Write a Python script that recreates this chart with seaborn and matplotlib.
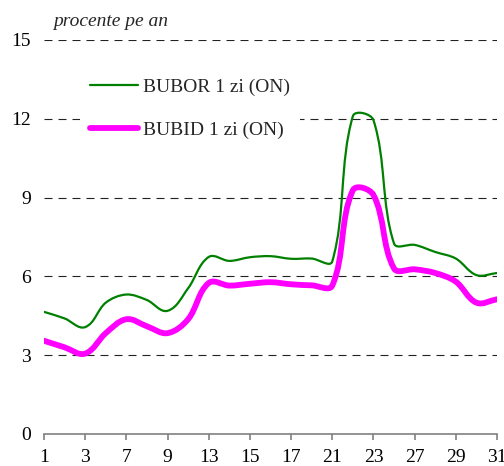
import numpy as np
import pandas as pd
import matplotlib
matplotlib.use("Agg")
import matplotlib.pyplot as plt
import seaborn as sns
from matplotlib.path import Path
from matplotlib.patches import PathPatch
from matplotlib.lines import Line2D

days = ["1", "2", "3", "6", "7", "8", "9", "10", "13", "14", "15", "16",
        "17", "20", "21", "22", "23", "24", "27", "28", "29", "30", "31"]
bubor = [4.65, 4.4, 4.07, 5.0, 5.31, 5.1, 4.69, 5.55, 6.74, 6.59, 6.73, 6.77,
         6.67, 6.68, 6.57, 12.1, 11.95, 7.25, 7.2, 6.93, 6.68, 6.05, 6.13]
bubid = [3.55, 3.3, 3.06, 3.84, 4.37, 4.1, 3.84, 4.37, 5.75, 5.65, 5.72, 5.78,
         5.7, 5.66, 5.65, 9.28, 9.1, 6.3, 6.27, 6.13, 5.8, 5.0, 5.13]
series_names = ["BUBOR 1 zi (ON)", "BUBID 1 zi (ON)"]
series_colors = ["#008000", "#ff00ff"]
series_widths = [1.6, 4.2]
yticks = [0, 3, 6, 9, 12, 15]

sns.set_theme(style="white")
plt.rcParams["font.family"] = ["Liberation Serif", "DejaVu Serif"]

df = pd.DataFrame({
    "pos": list(range(len(days))) * 2,
    "value": bubor + bubid,
    "series": [series_names[0]] * len(days) + [series_names[1]] * len(days),
})

fig = plt.figure(figsize=(5.04, 4.66), dpi=100)
ax = fig.add_axes([44 / 504, 32 / 466, 453 / 504, 394 / 466])

sns.lineplot(data=df, x="pos", y="value", hue="series",
             palette=series_colors, ax=ax, legend=False)
ax.set_xlim(0, len(days) - 1)
ax.set_ylim(0, 15)

# replace straight segments with smooth Bezier curves through the same points
fig.canvas.draw()
sx = ax.transData.transform((1, 0))[0] - ax.transData.transform((0, 0))[0]
sy = ax.transData.transform((0, 1))[1] - ax.transData.transform((0, 0))[1]
for line, col, lw in zip(ax.get_lines(), series_colors, series_widths):
    xd, yd = line.get_xdata(), line.get_ydata()
    line.set_visible(False)
    P = np.column_stack([np.asarray(xd) * sx, np.asarray(yd) * sy])
    n = len(P)
    T = np.zeros_like(P)
    for i in range(n):
        a = P[max(i - 1, 0)]
        b = P[min(i + 1, n - 1)]
        d = b - a
        T[i] = d / np.hypot(*d)
    verts = [P[0]]
    codes = [Path.MOVETO]
    for i in range(n - 1):
        L = np.hypot(*(P[i + 1] - P[i]))
        c1 = P[i] + T[i] * L / 3
        c2 = P[i + 1] - T[i + 1] * L / 3
        verts += [c1, c2, P[i + 1]]
        codes += [Path.CURVE4] * 3
    V = np.array(verts)
    V[:, 0] /= sx
    V[:, 1] /= sy
    ax.add_patch(PathPatch(Path(V, codes), facecolor="none", edgecolor=col,
                           lw=lw, capstyle="round", joinstyle="round",
                           zorder=3))

ax.set_yticks(yticks)
ax.set_yticklabels([str(v) for v in yticks])
tick_pos = list(range(0, len(days), 2))
ax.set_xticks(tick_pos)
ax.set_xticklabels([days[i] for i in tick_pos])
ax.set_xlabel("")
ax.set_ylabel("")

for v in yticks[1:]:
    ax.axhline(v, color="#222222", lw=0.8, linestyle=(0, (7.2, 5.4)), zorder=1)

for s in ["left", "right", "top"]:
    ax.spines[s].set_visible(False)
ax.spines["bottom"].set_color("#808080")
ax.spines["bottom"].set_linewidth(1.2)
ax.spines["bottom"].set_zorder(4)
ax.tick_params(axis="y", length=0, pad=9.5, labelsize=14, colors="black")
ax.tick_params(axis="x", direction="out", length=4.5, width=1.2, color="#808080",
               pad=6, labelsize=14, labelcolor="black", bottom=True)
for lab in ax.get_xticklabels():
    lab.set_clip_on(False)

handles = [Line2D([0], [0], color=c, lw=w) for c, w in zip(series_colors, series_widths)]
leg = fig.legend(handles, series_names, loc="center left",
                 bbox_to_anchor=(80 / 504, 1 - 109 / 466), borderaxespad=0,
                 frameon=True, fancybox=False, framealpha=1, facecolor="white",
                 edgecolor="none", fontsize=14, handlelength=2.5,
                 handletextpad=0.25, labelspacing=1.3, borderpad=0.5)
leg.set_zorder(5)

fig.text(53 / 504, 1 - 22 / 466, "procente pe an", style="italic",
         fontsize=14, va="center", ha="left")

fig.savefig("out.png", dpi=100)
